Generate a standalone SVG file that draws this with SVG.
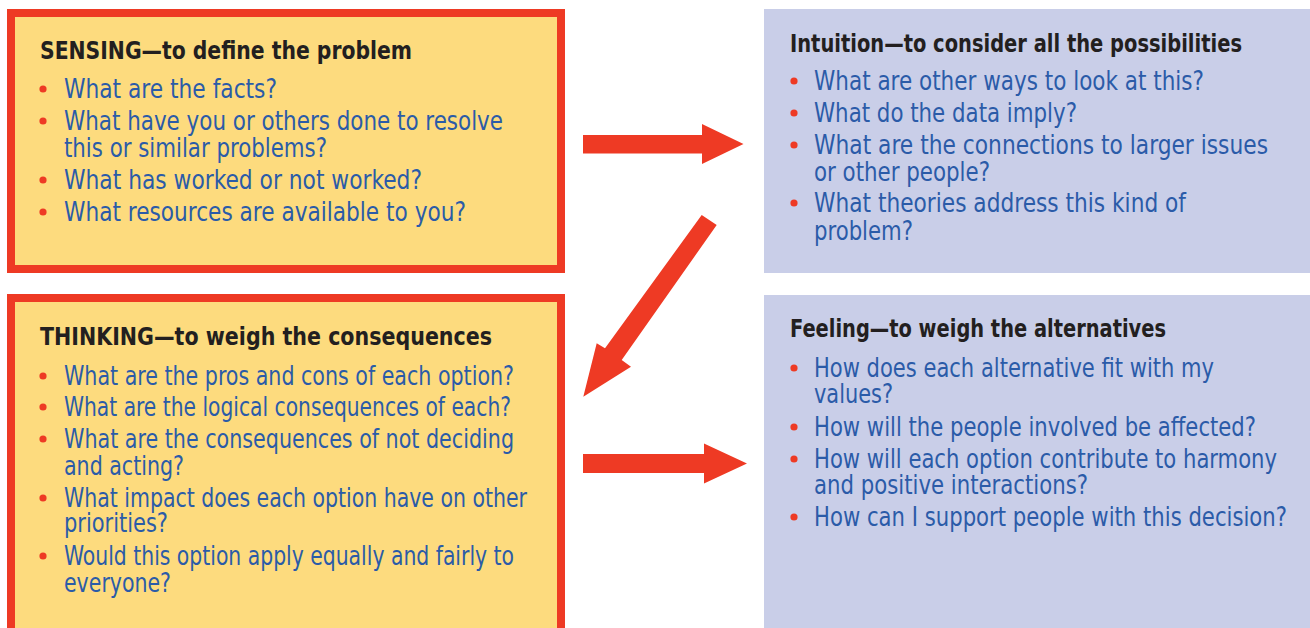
<svg xmlns="http://www.w3.org/2000/svg" width="1310" height="628" viewBox="0 0 1310 628">
<style>
.warm{fill:#FDDB7E;stroke:#EE3A24;stroke-width:8}
.cool{fill:#C9CEE8}
.h{font-family:"Liberation Sans Narrow","DejaVu Sans Condensed","Liberation Sans",sans-serif;font-weight:bold;font-size:25px;fill:#231F20}
.t{font-family:"Liberation Sans Narrow","DejaVu Sans Condensed","Liberation Sans",sans-serif;font-size:26px;fill:#2B5BA8}
.b{fill:#EE3A24}
.arrow{fill:#EE3A24}
</style>
<defs>
<circle id="dot" r="3.6" class="b"/>
</defs>
<rect x="0" y="0" width="1310" height="628" fill="#FFFFFF"/>
<g id="sensing">
<rect class="warm" x="11" y="13" width="550" height="256"/>
<text class="h" x="40" y="59" textLength="372" lengthAdjust="spacingAndGlyphs">SENSING—to define the problem</text>
<use href="#dot" x="43" y="89"/><text class="t" x="64" y="98" textLength="213" lengthAdjust="spacingAndGlyphs">What are the facts?</text>
<use href="#dot" x="43" y="121"/><text class="t" x="64" y="130" textLength="439" lengthAdjust="spacingAndGlyphs">What have you or others done to resolve</text>
<text class="t" x="64" y="157" textLength="263" lengthAdjust="spacingAndGlyphs">this or similar problems?</text>
<use href="#dot" x="43" y="180"/><text class="t" x="64" y="189" textLength="358" lengthAdjust="spacingAndGlyphs">What has worked or not worked?</text>
<use href="#dot" x="43" y="212"/><text class="t" x="64" y="221" textLength="402" lengthAdjust="spacingAndGlyphs">What resources are available to you?</text>
</g>
<g id="thinking">
<rect class="warm" x="11" y="298" width="550" height="334"/>
<text class="h" x="40" y="345" textLength="452" lengthAdjust="spacingAndGlyphs">THINKING—to weigh the consequences</text>
<use href="#dot" x="43" y="376"/><text class="t" x="64" y="385" textLength="450" lengthAdjust="spacingAndGlyphs">What are the pros and cons of each option?</text>
<use href="#dot" x="43" y="407"/><text class="t" x="64" y="416" textLength="447" lengthAdjust="spacingAndGlyphs">What are the logical consequences of each?</text>
<use href="#dot" x="43" y="439"/><text class="t" x="64" y="448" textLength="450" lengthAdjust="spacingAndGlyphs">What are the consequences of not deciding</text>
<text class="t" x="64" y="475" textLength="120" lengthAdjust="spacingAndGlyphs">and acting?</text>
<use href="#dot" x="43" y="498"/><text class="t" x="64" y="507" textLength="463" lengthAdjust="spacingAndGlyphs">What impact does each option have on other</text>
<text class="t" x="64" y="532" textLength="104" lengthAdjust="spacingAndGlyphs">priorities?</text>
<use href="#dot" x="43" y="556"/><text class="t" x="64" y="565" textLength="450" lengthAdjust="spacingAndGlyphs">Would this option apply equally and fairly to</text>
<text class="t" x="64" y="592" textLength="107" lengthAdjust="spacingAndGlyphs">everyone?</text>
</g>
<g id="intuition">
<rect class="cool" x="764" y="9" width="546" height="264"/>
<text class="h" x="790" y="52" textLength="452" lengthAdjust="spacingAndGlyphs">Intuition—to consider all the possibilities</text>
<use href="#dot" x="794" y="81"/><text class="t" x="814" y="90" textLength="390" lengthAdjust="spacingAndGlyphs">What are other ways to look at this?</text>
<use href="#dot" x="794" y="113"/><text class="t" x="814" y="122" textLength="263" lengthAdjust="spacingAndGlyphs">What do the data imply?</text>
<use href="#dot" x="794" y="145"/><text class="t" x="814" y="154" textLength="454" lengthAdjust="spacingAndGlyphs">What are the connections to larger issues</text>
<text class="t" x="814" y="181" textLength="176" lengthAdjust="spacingAndGlyphs">or other people?</text>
<use href="#dot" x="794" y="203"/><text class="t" x="814" y="212" textLength="372" lengthAdjust="spacingAndGlyphs">What theories address this kind of</text>
<text class="t" x="814" y="240" textLength="99" lengthAdjust="spacingAndGlyphs">problem?</text>
</g>
<g id="feeling">
<rect class="cool" x="764" y="295" width="546" height="333"/>
<text class="h" x="790" y="337" textLength="376" lengthAdjust="spacingAndGlyphs">Feeling—to weigh the alternatives</text>
<use href="#dot" x="794" y="368"/><text class="t" x="814" y="377" textLength="400" lengthAdjust="spacingAndGlyphs">How does each alternative fit with my</text>
<text class="t" x="814" y="403" textLength="79" lengthAdjust="spacingAndGlyphs">values?</text>
<use href="#dot" x="794" y="427"/><text class="t" x="814" y="436" textLength="442" lengthAdjust="spacingAndGlyphs">How will the people involved be affected?</text>
<use href="#dot" x="794" y="459"/><text class="t" x="814" y="468" textLength="463" lengthAdjust="spacingAndGlyphs">How will each option contribute to harmony</text>
<text class="t" x="814" y="494" textLength="274" lengthAdjust="spacingAndGlyphs">and positive interactions?</text>
<use href="#dot" x="794" y="517"/><text class="t" x="814" y="526" textLength="473" lengthAdjust="spacingAndGlyphs">How can I support people with this decision?</text>
</g>
<g id="connectors">
<polygon class="arrow" points="583,135 702,135 702,124 743.5,144 702,164 702,153.5 583,153.5"/>
<polygon class="arrow" points="701.7,215 716.7,225 621.7,360 631,366.7 583.3,396.7 596.7,343.3 605,348.3"/>
<polygon class="arrow" points="583,454 704,454 704,443.5 747,463.5 704,483.5 704,473 583,473"/>
</g>
</svg>
